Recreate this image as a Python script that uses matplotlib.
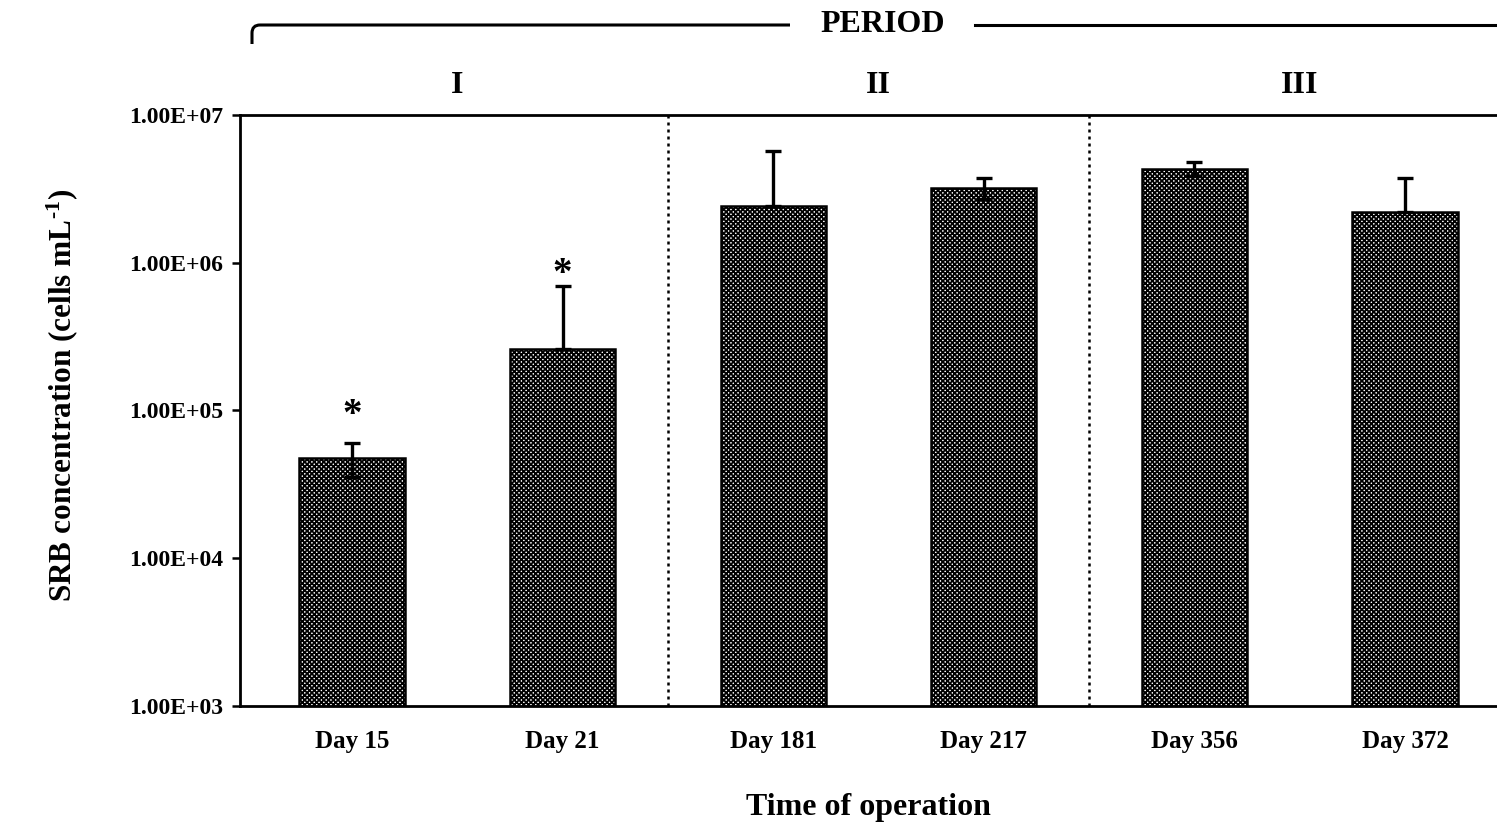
import numpy as np
import matplotlib
matplotlib.use("Agg")
import matplotlib.pyplot as plt
from matplotlib.path import Path
from matplotlib.patches import PathPatch

plt.rcParams['font.family'] = ['Liberation Serif', 'DejaVu Serif']
plt.rcParams['font.weight'] = 'bold'
plt.rcParams['mathtext.fontset'] = 'custom'
plt.rcParams['mathtext.rm'] = 'Liberation Serif:bold'
plt.rcParams['mathtext.default'] = 'rm'
plt.rcParams['hatch.linewidth'] = 1.3

# SRB counts per sampling day
days = ["Day 15", "Day 21", "Day 181", "Day 217", "Day 356", "Day 372"]
srb_mean = [4.8e4, 2.6e5, 2.42e6, 3.22e6, 4.33e6, 2.22e6]
srb_err_up = [1.25e4, 4.4e5, 3.3e6, 5.4e5, 4.7e5, 1.5e6]
srb_err_down = [1.25e4, 0.0, 0.0, 5.4e5, 4.7e5, 0.0]
significant = [True, True, False, False, False, False]
star_gap_pt = [6, -5, 0, 0, 0, 0]

periods = ["I", "II", "III"]
period_centers = [0.5, 2.5, 4.5]
period_bounds = [1.5, 3.5]
ytick_vals = [1e3, 1e4, 1e5, 1e6, 1e7]
ytick_labels = ["1.00E+03", "1.00E+04", "1.00E+05", "1.00E+06", "1.00E+07"]

W, H = 1497, 827
fig = plt.figure(figsize=(W / 100, H / 100), dpi=100)
ax = fig.add_axes([240 / W, 1 - 706 / H, 1 - 240 / W, (706 - 115) / H])

x = np.arange(len(days))
ax.bar(x, srb_mean, width=0.5, color="white", edgecolor="black",
       hatch="xxxxxxx", linewidth=1.8, zorder=2)
ax.errorbar(x, srb_mean, yerr=[srb_err_down, srb_err_up], fmt="none",
            ecolor="black", elinewidth=2.4, capsize=6, capthick=2.4, zorder=3)

for i, sig in enumerate(significant):
    if sig:
        top = srb_mean[i] + srb_err_up[i]
        ax.annotate("*", xy=(x[i], top), xytext=(0, star_gap_pt[i]),
                    textcoords="offset points", ha="center", va="bottom",
                    fontsize=28, fontweight="bold")

ax.set_yscale("log")
ax.set_ylim(1e3, 1e7)
ax.set_xlim(-0.532, 5.437)
ax.set_yticks(ytick_vals)
ax.set_yticklabels(ytick_labels, fontsize=17, fontweight="bold")
ax.yaxis.set_minor_locator(matplotlib.ticker.NullLocator())
ax.set_xticks(x)
ax.set_xticklabels(days, fontsize=18, fontweight="bold")
ax.tick_params(axis="x", length=0, pad=17)
ax.tick_params(axis="y", length=6, width=1.8, direction="out", pad=6)

for side in ["left", "bottom", "top"]:
    ax.spines[side].set_linewidth(2.0)
ax.spines["right"].set_visible(False)

for b in period_bounds:
    ax.axvline(b, color="black", linestyle=(0, (1.2, 1.6)), linewidth=1.8, zorder=1)

for c, p in zip(period_centers, periods):
    ax.text(c, 1.05, p, transform=ax.get_xaxis_transform(), ha="center", va="center",
            fontsize=23, fontweight="bold")

ax.set_xlabel("Time of operation", fontsize=23, fontweight="bold", labelpad=29)
ax.set_ylabel("SRB concentration (cells mL$^{\u2010 1}$)", fontsize=22.5, fontweight="bold")
ax.yaxis.set_label_coords(-0.127, 0.526)

# PERIOD bracket across the top
fx = lambda px: px / W
fy = lambda py: 1 - py / H
r = 8
verts = [(fx(252), fy(44)), (fx(252), fy(25 + r)), (fx(252), fy(25)), (fx(252 + r), fy(25)),
         (fx(790), fy(25))]
codes = [Path.MOVETO, Path.LINETO, Path.CURVE3, Path.CURVE3, Path.LINETO]
fig.patches.append(PathPatch(Path(verts, codes), transform=fig.transFigure,
                             fill=False, edgecolor="black", linewidth=2.2,
                             capstyle="butt", joinstyle="round"))
fig.add_artist(plt.Line2D([fx(975), fx(1497)], [fy(25), fy(25)], color="black",
                          linewidth=2.2, transform=fig.transFigure))
fig.text(fx(883), fy(24), "PERIOD", ha="center", va="center", fontsize=23,
         fontweight="bold")

fig.savefig("out.png", dpi=100)
